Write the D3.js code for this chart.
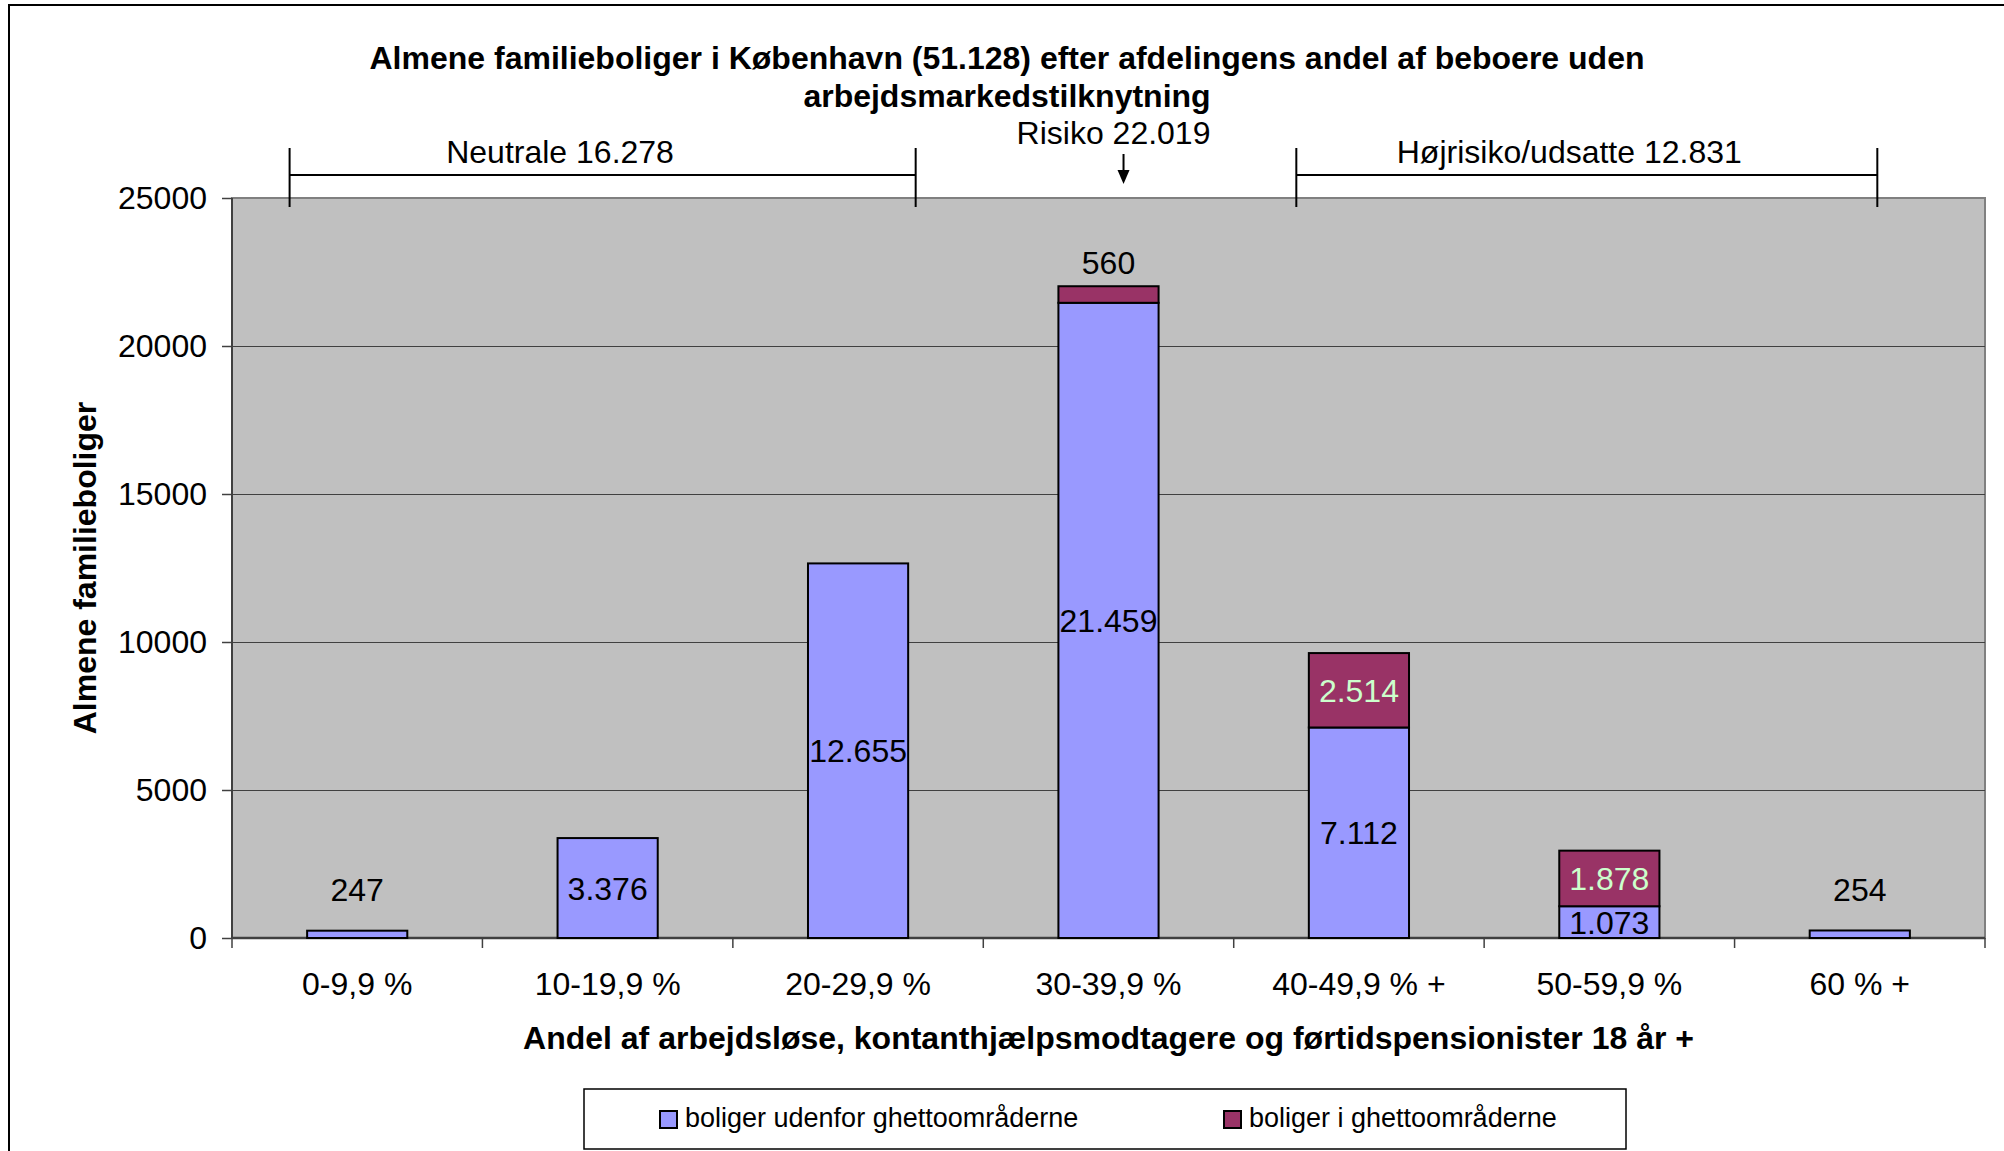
<!DOCTYPE html>
<html>
<head>
<meta charset="utf-8">
<script src="https://cdn.jsdelivr.net/npm/d3@7"></script>
<style>
  html, body { margin: 0; padding: 0; background: #fff; }
  svg { display: block; font-family: 'Liberation Sans', Arial, sans-serif; }
</style>
</head>
<body>
<div id="chart"></div>
<script>
// Data
const categories = ['0-9,9 %', '10-19,9 %', '20-29,9 %', '30-39,9 %', '40-49,9 % +', '50-59,9 %', '60 % +'];
const udenfor = [247, 3376, 12655, 21459, 7112, 1073, 254];   // boliger udenfor ghettoområderne
const iGhetto = [0, 0, 0, 560, 2514, 1878, 0];                // boliger i ghettoområderne
const yTicks = [0, 5000, 10000, 15000, 20000, 25000];
const seriesNames = ['boliger udenfor ghettoområderne', 'boliger i ghettoområderne'];

// Group annotations, positioned in category units (0 = left edge, 7 = right edge)
const groupFrom  = [0.23, 4.25];
const groupTo    = [2.73, 6.57];
const groupText  = [1.31, 5.34];
const groupLabel = ['Neutrale 16.278', 'Højrisiko/udsatte 12.831'];
const riskAt = 3.56;
const riskTextAt = 3.52;
const riskLabel = 'Risiko 22.019';

const titleLines = [
  'Almene familieboliger i København (51.128) efter afdelingens andel af beboere uden',
  'arbejdsmarkedstilknytning'
];

const BLUE   = '#9999FF';
const PLUM   = '#993366';
const PLOTBG = '#C0C0C0';
const LIGHT  = '#CCFFCC';
const FS = '32px';

const W = 2004, H = 1151;
const margin = { top: 198, right: 19, bottom: 213, left: 232 };
const width  = W - margin.left - margin.right;
const height = H - margin.top - margin.bottom;

const svg = d3.select('#chart').append('svg')
  .attr('width', W).attr('height', H);

// outer chart frame (runs off the right/bottom edge like the source)
svg.append('rect')
  .attr('x', 9).attr('y', 5)
  .attr('width', W + 20).attr('height', H + 20)
  .attr('fill', 'none').attr('stroke', '#000').attr('stroke-width', 2);

// Title
svg.append('g').selectAll('text')
  .data(titleLines).join('text')
  .attr('x', 1007)
  .attr('y', (d, i) => 69 + i * 38)
  .attr('text-anchor', 'middle')
  .style('font-weight', 'bold')
  .style('font-size', FS)
  .text(d => d);

const g = svg.append('g').attr('transform', `translate(${margin.left},${margin.top})`);

// Scales
const x = d3.scaleBand().domain(categories).range([0, width]).paddingInner(0).paddingOuter(0);
const y = d3.scaleLinear().domain([0, 25000]).range([height, 0]);
const xc = d3.scaleLinear().domain([0, categories.length]).range([0, width]);
const barW = x.bandwidth() * 0.4;

// plot area
g.append('rect')
  .attr('width', width).attr('height', height)
  .attr('fill', PLOTBG).attr('stroke', '#808080').attr('stroke-width', 2);

// gridlines
g.append('g')
  .call(d3.axisLeft(y).tickValues(yTicks.slice(1, -1)).tickSize(-width).tickFormat(''))
  .call(gr => gr.select('.domain').remove())
  .call(gr => gr.selectAll('line').attr('stroke', '#404040').attr('stroke-width', 1));

// y axis
const yAxis = g.append('g')
  .call(d3.axisLeft(y).tickValues(yTicks).tickSize(10).tickPadding(15).tickFormat(d3.format('d')));
yAxis.select('.domain').attr('stroke', '#404040').attr('stroke-width', 2).attr('d', `M0,0V${height}`);
yAxis.selectAll('line').attr('stroke', '#404040').attr('stroke-width', 1.5);
yAxis.selectAll('text').style('font-size', FS).style('fill', '#000')
  .style('font-family', "'Liberation Sans', Arial, sans-serif");

// x axis: ticks on band boundaries
const bounds = d3.range(categories.length + 1);
const xAxisG = g.append('g').attr('transform', `translate(0,${height})`);
xAxisG.append('line')
  .attr('x1', 0).attr('x2', width)
  .attr('stroke', '#404040').attr('stroke-width', 2.5);
xAxisG.selectAll('.tick')
  .data(bounds).join('line')
  .attr('x1', d => xc(d)).attr('x2', d => xc(d))
  .attr('y1', 0).attr('y2', 10)
  .attr('stroke', '#404040').attr('stroke-width', 1.5);
xAxisG.selectAll('.cat')
  .data(categories).join('text')
  .attr('x', d => x(d) + x.bandwidth() / 2)
  .attr('y', 57)
  .attr('text-anchor', 'middle')
  .style('font-size', FS)
  .text(d => d);

// stacked bars
const stack = categories.map((c, i) => ({ c, a: udenfor[i], b: iGhetto[i] }));
const nf = d3.formatLocale({ decimal: ',', thousands: '.', grouping: [3], currency: ['', ''] }).format(',d');

const bars = g.append('g');
bars.selectAll('.s1')
  .data(stack).join('rect')
  .attr('x', d => x(d.c) + (x.bandwidth() - barW) / 2)
  .attr('y', d => y(d.a))
  .attr('width', barW)
  .attr('height', d => y(0) - y(d.a))
  .attr('fill', BLUE).attr('stroke', '#000').attr('stroke-width', 2);
bars.selectAll('.s2')
  .data(stack.filter(d => d.b > 0)).join('rect')
  .attr('x', d => x(d.c) + (x.bandwidth() - barW) / 2)
  .attr('y', d => y(d.a + d.b))
  .attr('width', barW)
  .attr('height', d => y(d.a) - y(d.a + d.b))
  .attr('fill', PLUM).attr('stroke', '#000').attr('stroke-width', 2);

// data labels
const labels = g.append('g').style('font-size', FS);
labels.selectAll('.l1')
  .data(stack).join('text')
  .attr('x', d => x(d.c) + x.bandwidth() / 2)
  .attr('y', d => {
    const h = y(0) - y(d.a);
    return h < 20 ? y(d.a) - 41 : (y(0) + y(d.a)) / 2;
  })
  .attr('dy', '0.36em')
  .attr('text-anchor', 'middle')
  .attr('fill', '#000')
  .text(d => nf(d.a));
labels.selectAll('.l2')
  .data(stack.filter(d => d.b > 0)).join('text')
  .attr('x', d => x(d.c) + x.bandwidth() / 2)
  .attr('y', d => {
    const h = y(d.a) - y(d.a + d.b);
    return h < 20 ? y(d.a + d.b) - 24 : (y(d.a) + y(d.a + d.b)) / 2;
  })
  .attr('dy', '0.36em')
  .attr('text-anchor', 'middle')
  .attr('fill', d => (y(d.a) - y(d.a + d.b)) < 20 ? '#000' : LIGHT)
  .text(d => nf(d.b));

// axis titles
g.append('text')
  .attr('transform', 'rotate(-90)')
  .attr('x', -height / 2)
  .attr('y', -136)
  .attr('text-anchor', 'middle')
  .style('font-weight', 'bold')
  .style('font-size', FS)
  .text('Almene familieboliger');
g.append('text')
  .attr('x', width / 2)
  .attr('y', height + 111)
  .attr('text-anchor', 'middle')
  .style('font-weight', 'bold')
  .style('font-size', FS)
  .text('Andel af arbejdsløse, kontanthjælpsmodtagere og førtidspensionister 18 år +');

// group brackets above the plot
const ann = g.append('g');
groupLabel.forEach((lab, i) => {
  const x1 = xc(groupFrom[i]), x2 = xc(groupTo[i]);
  ann.append('line').attr('x1', x1).attr('x2', x2).attr('y1', -23).attr('y2', -23)
    .attr('stroke', '#000').attr('stroke-width', 2);
  [x1, x2].forEach(xx => ann.append('line')
    .attr('x1', xx).attr('x2', xx).attr('y1', -50).attr('y2', 9)
    .attr('stroke', '#000').attr('stroke-width', 2));
  ann.append('text')
    .attr('x', xc(groupText[i])).attr('y', -35)
    .attr('text-anchor', 'middle')
    .style('font-size', FS)
    .text(lab);
});
ann.append('text')
  .attr('x', xc(riskTextAt)).attr('y', -54)
  .attr('text-anchor', 'middle')
  .style('font-size', FS)
  .text(riskLabel);
ann.append('line')
  .attr('x1', xc(riskAt)).attr('x2', xc(riskAt))
  .attr('y1', -44).attr('y2', -26)
  .attr('stroke', '#000').attr('stroke-width', 2);
ann.append('path')
  .attr('d', d3.line()([[xc(riskAt) - 6, -28], [xc(riskAt) + 6, -28], [xc(riskAt), -14]]) + 'Z')
  .attr('fill', '#000');

// legend
const leg = svg.append('g').attr('transform', 'translate(584,1089)');
leg.append('rect')
  .attr('width', 1042).attr('height', 60)
  .attr('fill', '#fff').attr('stroke', '#000').attr('stroke-width', 1.5);
const legX = [76, 640];
seriesNames.forEach((name, i) => {
  leg.append('rect')
    .attr('x', legX[i]).attr('y', 22).attr('width', 17).attr('height', 17)
    .attr('fill', i === 0 ? BLUE : PLUM).attr('stroke', '#000').attr('stroke-width', 2);
  leg.append('text')
    .attr('x', legX[i] + 25).attr('y', 38)
    .style('font-size', '27px')
    .text(name);
});
</script>
</body>
</html>
